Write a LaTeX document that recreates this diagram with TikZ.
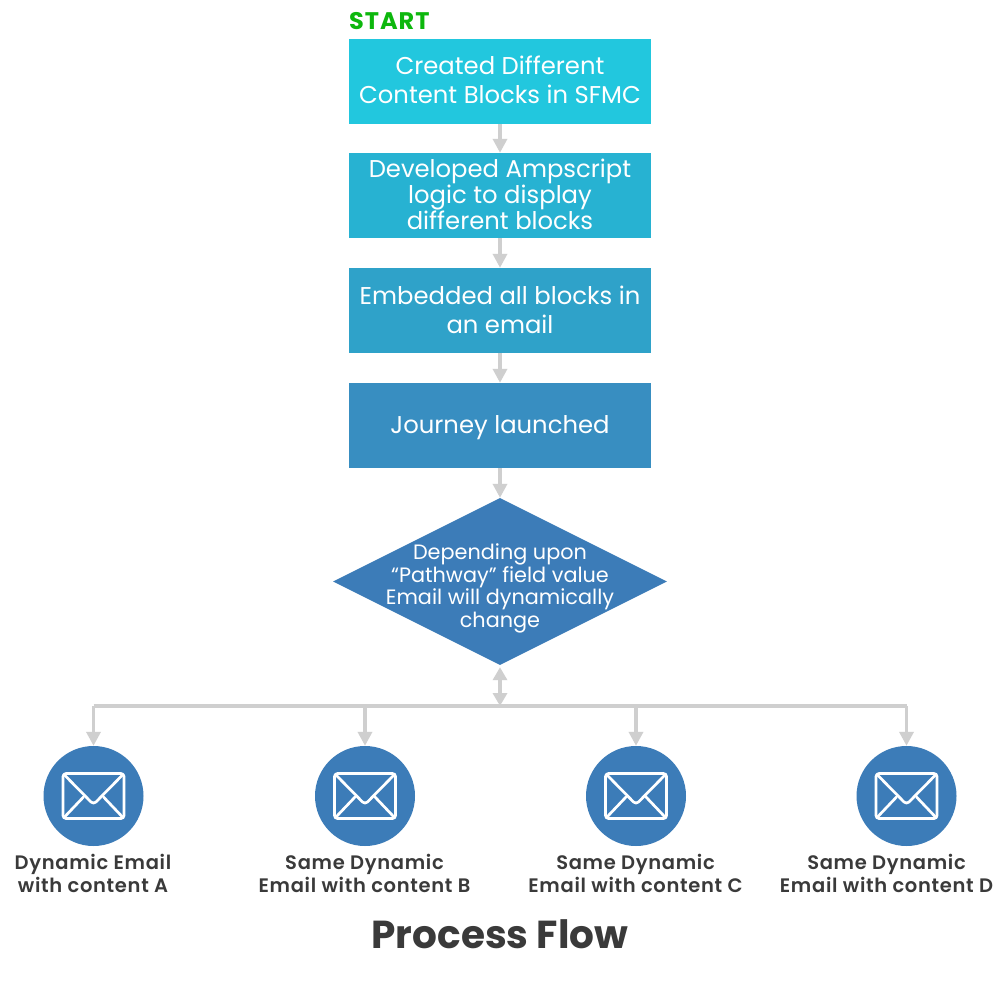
\documentclass[tikz,border=0pt]{standalone}
\usepackage{fontspec}
\setmainfont{Poppins}
\newfontfamily\semi[LetterSpace=3.5]{Poppins SemiBold}
\newfontfamily\startf[LetterSpace=4]{Poppins Bold}
\usetikzlibrary{shapes.geometric,arrows.meta}
\definecolor{cA}{HTML}{22C7DE}
\definecolor{cB}{HTML}{27B2D2}
\definecolor{cC}{HTML}{2FA2C9}
\definecolor{cD}{HTML}{388EC1}
\definecolor{cE}{HTML}{3C7CB8}
\definecolor{lineg}{HTML}{CFCFCF}
\definecolor{inkg}{HTML}{3A3A3A}
\definecolor{startg}{HTML}{0DB70D}
\tikzset{
  x=1pt,y=-1pt,
  boxn/.style={draw=none,minimum width=302pt,minimum height=85pt,inner sep=0pt,text=white,align=center},
  boxt/.style={text=white,align=center,inner sep=0pt},
  conn/.style={draw=lineg,line width=3.4pt,-{Triangle[width=14pt,length=14pt]}},
  plainl/.style={draw=lineg,line width=3.4pt},
  circ/.style={circle,fill=cE,minimum size=100pt,inner sep=0pt},
  lab/.style={text=inkg,align=center,inner sep=0pt,font=\semi\fontsize{19.5}{23}\selectfont},
  env/.style={draw=white,line width=2.7pt,line join=round,line cap=round}
}
\newcommand{\envelope}[1]{%
  \begin{scope}[shift={(#1)}]
    \draw[env,rounded corners=3pt] (-30.5,-22.5) rectangle (30.5,22.5);
    \draw[env,rounded corners=3.5pt] (-29,-21) -- (0,8.5) -- (29,-21);
    \draw[env] (-29,21) -- (-10,1);
    \draw[env] (29,21) -- (10,1);
  \end{scope}}
\begin{document}
\begin{tikzpicture}
\useasboundingbox (0,0) rectangle (1000,1000);
\fill[white] (0,0) rectangle (1000,1000);
\node[anchor=west,inner sep=0pt,text=startg,font=\startf\fontsize{24}{24}\selectfont] (st) at (349,21.5) {START};
\node[boxn,fill=cA] (b1) at (500,81.5) {};
\node[boxn,fill=cB] (b2) at (500,195.5) {};
\node[boxn,fill=cC] (b3) at (500,310.5) {};
\node[boxn,fill=cD] (b4) at (500,425.5) {};
\node[boxt,font=\fontsize{24.3}{29}\selectfont] (t1) at (500,79.5) {Created Different\\Content Blocks in SFMC};
\node[boxt,font=\fontsize{24.3}{26}\selectfont] (t2) at (500,194) {Developed Ampscript\\logic to display\\different blocks};
\node[boxt,font=\fontsize{24.3}{29}\selectfont] (t3) at (500,309.5) {Embedded all blocks in\\an email};
\node[boxt,font=\fontsize{24.3}{29}\selectfont] (t4) at (500,427.5) {Journey launched};
\node[diamond,fill=cE,minimum width=334pt,minimum height=167pt,inner sep=0pt,aspect=2] (d) at (500,581.5) {};
\node[text=white,align=center,inner sep=0pt,font=\fontsize{20.8}{22.6}\selectfont] (dt) at (500,588.3) {Depending upon\\“Pathway” field value\\Email will dynamically\\change};
\draw[conn] (b1) -- (b2);
\draw[conn] (b2) -- (b3);
\draw[conn] (b3) -- (b4);
\draw[conn] (b4) -- (d.north);
\coordinate (j) at (500,706);
\draw[plainl,{Triangle[width=14pt,length=13pt]}-{Triangle[width=14pt,length=13pt]}] (d.south) ++(0,2) -- (j);
\node[circ] (c1) at (93.5,796) {};
\node[circ] (c2) at (365,796) {};
\node[circ] (c3) at (636,796) {};
\node[circ] (c4) at (906.5,796) {};
\draw[plainl,line cap=square] (c1.north |- j) -- (c4.north |- j);
\draw[conn] (j -| c1) -- (c1.north);
\draw[conn] (j -| c2) -- (c2.north);
\draw[conn] (j -| c3) -- (c3.north);
\draw[conn] (j -| c4) -- (c4.north);
\envelope{c1}
\envelope{c2}
\envelope{c3}
\envelope{c4}
\node[lab] (l1) at (93,873) {Dynamic Email\\with content A};
\node[lab] (l2) at (364.5,873) {Same Dynamic\\Email with content B};
\node[lab] (l3) at (635.5,873) {Same Dynamic\\Email with content C};
\node[lab] (l4) at (886.5,873) {Same Dynamic\\Email with content D};
\node[text=inkg,inner sep=0pt,font=\bfseries\fontsize{39}{39}\selectfont] (title) at (500,934) {Process Flow};
\end{tikzpicture}
\end{document}
